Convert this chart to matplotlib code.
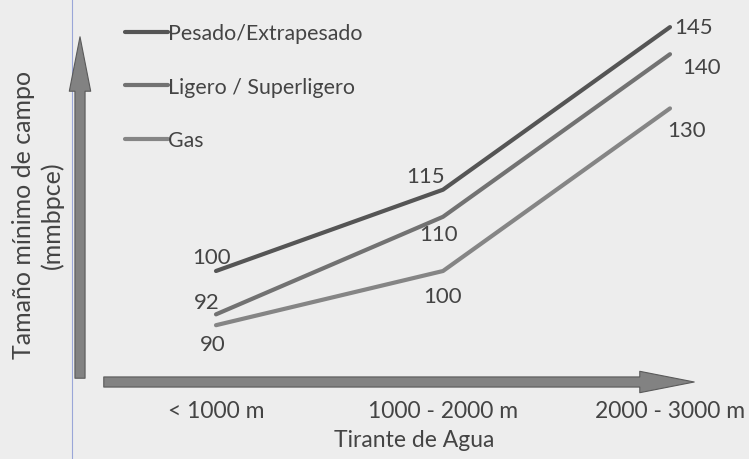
import matplotlib.pyplot as plt

categories = ["< 1000 m", "1000 - 2000 m", "2000 - 3000 m"]
series_names = ["Pesado/Extrapesado", "Ligero / Superligero", "Gas"]
pesado = [100, 115, 145]
ligero = [92, 110, 140]
gas = [90, 100, 130]

colors = ["#555555", "#727272", "#858585"]
# label offsets (pixels) for each point of each series
offsets = [
    [(-4, 14), (-17, 14), (24, 0)],
    [(-9, 12), (-4, -17), (32, -13)],
    [(-3, -19), (0, -25), (17, -22)],
]

plt.rcParams["font.family"] = ["Lato", "DejaVu Sans"]

fig = plt.figure(figsize=(7.49, 4.60), dpi=100)
fig.patch.set_facecolor("#ededed")
ax = fig.add_axes([0, 0, 1, 1])
ax.set_facecolor("#ededed")
for s in ax.spines.values():
    s.set_visible(False)
ax.set_xticks([])
ax.set_yticks([])

# map data to the figure area
px_per_x = 227
ax.set_xlim(-216 / px_per_x, (749 - 216) / px_per_x)
ax.set_ylim(100 - 188 / 5.42, 100 + 272 / 5.42)

xs = range(len(categories))
for name, vals, c, offs in zip(series_names, [pesado, ligero, gas], colors, offsets):
    ax.plot(xs, vals, color=c, lw=3, solid_capstyle="round", label=name)
    for x, v, (dx, dy) in zip(xs, vals, offs):
        ax.annotate(str(v), (x, v), xytext=(dx, dy), textcoords="offset pixels",
                    ha="center", va="center", fontsize=16, color="#444444")

# category labels
for x, cat in zip(xs, categories):
    ax.annotate(cat, (x, 0), xycoords=("data", "axes fraction"),
                xytext=(0, 1 - 412 / 460), textcoords=("offset pixels", "axes fraction"),
                ha="center", va="center", fontsize=16.5, color="#444444")

ax.text(414 / 749, 1 - 441 / 460, "Tirante de Agua", transform=ax.transAxes,
        ha="center", va="center", fontsize=16.5, color="#444444")
ax.text(38 / 749, 1 - 215 / 460, "Tamaño mínimo de campo\n(mmbpce)", transform=ax.transAxes,
        ha="center", va="center", rotation=90, fontsize=18, color="#444444",
        linespacing=1.25)

# margin line from the scan
ax.axvline(-216 / px_per_x + 72 / px_per_x, color="#9aa6d8", lw=0.8)

# axis arrows
arrow_style = "simple,head_width=1.1,head_length=2.8,tail_width=0.52"
ax.annotate("", xy=(80 / 749, 1 - 35 / 460), xytext=(80 / 749, 1 - 382 / 460),
            xycoords="axes fraction", textcoords="axes fraction",
            arrowprops=dict(arrowstyle=arrow_style, mutation_scale=14,
                            fc="#828282", ec="#5a5a5a", lw=0.8))
ax.annotate("", xy=(697 / 749, 1 - 383 / 460), xytext=(101 / 749, 1 - 383 / 460),
            xycoords="axes fraction", textcoords="axes fraction",
            arrowprops=dict(arrowstyle=arrow_style, mutation_scale=14,
                            fc="#828282", ec="#5a5a5a", lw=0.8))

leg = ax.legend(loc="upper left", bbox_to_anchor=(125 / 749, 1 - 24 / 460),
                frameon=False, fontsize=15.4, handlelength=2.0, handletextpad=0.0,
                labelspacing=1.57, borderpad=0, borderaxespad=0,
                labelcolor="#444444")

fig.savefig("out.png", dpi=100, facecolor=fig.get_facecolor())
